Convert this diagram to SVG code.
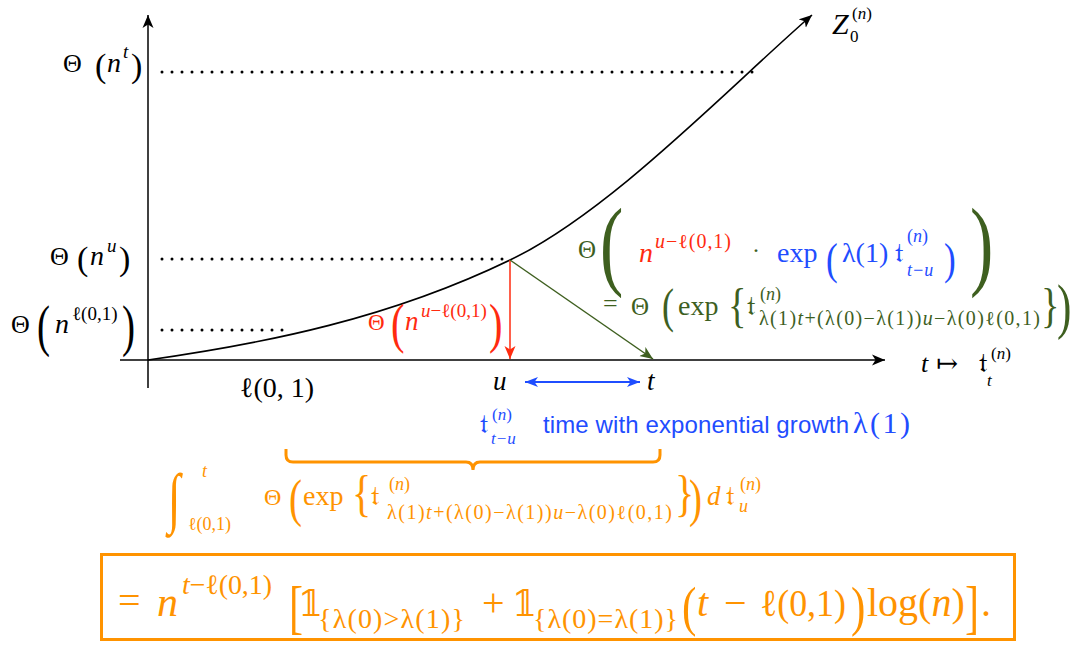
<svg xmlns="http://www.w3.org/2000/svg" width="1078" height="645" viewBox="0 0 1078 645">
<defs>
<style>
.m{font-family:"Liberation Serif","DejaVu Serif",serif}
.s{font-family:"Liberation Sans",Arial,sans-serif}
.f{font-family:"DejaVu Serif","DejaVu Sans","Noto Sans",serif}
.i{font-style:italic}
.k{fill:#000}
.g{fill:#3E5F1F}
.r{fill:#FF2B0F}
.b{fill:#1F4DFF}
.o{fill:#FF9300}
.dot{stroke:#000;stroke-width:3;stroke-linecap:round;stroke-dasharray:0 10;fill:none}
</style>
<marker id="ak" markerUnits="userSpaceOnUse" markerWidth="14" markerHeight="12" refX="13" refY="6" orient="auto"><path d="M0,0.5 L13,6 L0,11.5 L3.5,6 z" fill="#000"/></marker>
<marker id="ar" markerUnits="userSpaceOnUse" markerWidth="14" markerHeight="12" refX="13" refY="6" orient="auto"><path d="M0,0.5 L13,6 L0,11.5 L3.5,6 z" fill="#FF2B0F"/></marker>
<marker id="ag" markerUnits="userSpaceOnUse" markerWidth="14" markerHeight="12" refX="13" refY="6" orient="auto"><path d="M0,0.5 L13,6 L0,11.5 L3.5,6 z" fill="#3E5F1F"/></marker>
<marker id="ab" markerUnits="userSpaceOnUse" markerWidth="14" markerHeight="12" refX="13" refY="6" orient="auto-start-reverse"><path d="M0,1 L13,6 L0,11 L3.5,6 z" fill="#1F4DFF"/></marker>
</defs>

<g id="axes">
<line x1="148" y1="388" x2="148" y2="15" stroke="#000" stroke-width="1.5" marker-end="url(#ak)"/>
<line x1="120" y1="360" x2="885" y2="360" stroke="#000" stroke-width="1.5" marker-end="url(#ak)"/>
</g>

<g id="curve">
<path d="M148,360 C268,343 390,318 510,260 C610,212 726,90 812,15" fill="none" stroke="#000" stroke-width="1.6" marker-end="url(#ak)"/>
</g>

<g id="guides">
<line class="dot" x1="162" y1="72" x2="755" y2="72"/>
<line class="dot" x1="162" y1="259" x2="510" y2="259"/>
<line class="dot" x1="162" y1="330" x2="290" y2="330"/>
</g>

<g id="connectors">
<line x1="510" y1="260" x2="510" y2="359" stroke="#FF2B0F" stroke-width="1.5" marker-end="url(#ar)"/>
<line x1="510" y1="260" x2="653" y2="359" stroke="#3E5F1F" stroke-width="1.5" marker-end="url(#ag)"/>
<line x1="525" y1="382" x2="640" y2="382" stroke="#1F4DFF" stroke-width="1.8" marker-start="url(#ab)" marker-end="url(#ab)"/>
<path d="M286,449 V455 Q286,462 293,462 H466 Q473,462 473,470 Q473,462 480,462 H653 Q660,462 660,455 V449" fill="none" stroke="#FF9300" stroke-width="3"/>
</g>

<g id="label-nt" class="m k">
<text x="63" y="72" font-size="26">Θ</text>
<text x="95" y="77" font-size="34">(</text>
<text x="107" y="72" font-size="28" class="i">n</text>
<text x="123" y="58" font-size="19" class="i">t</text>
<text x="131" y="77" font-size="34">)</text>
</g>

<g id="label-nu" class="m k">
<text x="50" y="265" font-size="26">Θ</text>
<text x="77" y="270" font-size="34">(</text>
<text x="90" y="265" font-size="28" class="i">n</text>
<text x="107" y="252" font-size="19" class="i">u</text>
<text x="119" y="270" font-size="34">)</text>
</g>

<g id="label-nl" class="m k">
<text x="11" y="333" font-size="26">Θ</text>
<text transform="translate(37,345) scale(0.7,1)" font-size="56">(</text>
<text x="55" y="333" font-size="28" class="i">n</text>
<text x="72" y="320" font-size="19">ℓ(0,1)</text>
<text transform="translate(122,345) scale(0.7,1)" font-size="56">)</text>
</g>

<g id="label-l01" class="m k">
<text x="240" y="397" font-size="28">ℓ(0, 1)</text>
</g>

<g id="label-u" class="m k"><text x="493" y="390" font-size="27" class="i">u</text></g>
<g id="label-t" class="m k"><text x="647" y="390" font-size="27" class="i">t</text></g>

<g id="label-Z" class="m k">
<text x="832" y="34" font-size="30" class="i">Z</text>
<text x="852" y="19" font-size="17">(<tspan class="i">n</tspan>)</text>
<text x="850" y="42" font-size="17">0</text>
</g>

<g id="label-tt" class="k">
<text x="921" y="372" font-size="26" class="m i">t</text>
<text x="936" y="372" font-size="26" class="m">↦</text>
<text x="979" y="372" font-size="28" class="f">𝔱</text>
<text x="991" y="359" font-size="17" class="m">(<tspan class="i">n</tspan>)</text>
<text x="987" y="386" font-size="17" class="m i">t</text>
</g>

<g id="label-red" class="m r">
<text x="368" y="330" font-size="23">Θ</text>
<text transform="translate(391,342) scale(0.75,1)" font-size="54">(</text>
<text x="405" y="330" font-size="27" class="i">n</text>
<text x="421" y="317" font-size="19"><tspan class="i">u</tspan>−ℓ(0,1)</text>
<text transform="translate(489,342) scale(0.75,1)" font-size="54">)</text>
</g>

<g id="label-green" class="m">
<text x="578" y="258" font-size="25" class="g">Θ</text>
<text transform="translate(600,277) scale(0.7,1)" font-size="100" class="g">(</text>
<text x="639" y="262" font-size="28" class="i r">n</text>
<text x="655" y="248" font-size="20" class="r" textLength="76" lengthAdjust="spacing"><tspan class="i">u</tspan>−ℓ(0,1)</text>
<text x="752" y="258" font-size="24" class="g">·</text>
<text x="777" y="262" font-size="28" class="b">exp</text>
<text transform="translate(826,274) scale(0.8,1)" font-size="44" class="b">(</text>
<text x="842" y="262" font-size="28" class="b">λ(1)</text>
<text x="895" y="262" font-size="28" class="f b">𝔱</text>
<text x="907" y="242" font-size="18" class="b">(<tspan class="i">n</tspan>)</text>
<text x="907" y="276" font-size="18" class="b i">t−u</text>
<text transform="translate(944,274) scale(0.8,1)" font-size="44" class="b">)</text>
<text transform="translate(970,277) scale(0.7,1)" font-size="100" class="g">)</text>
<text x="603" y="312" font-size="26" class="g">=</text>
<text x="631" y="315" font-size="25" class="g">Θ</text>
<text transform="translate(662,322) scale(0.75,1)" font-size="48" class="g">(</text>
<text x="678" y="315" font-size="28" class="g">exp</text>
<text transform="translate(728,322) scale(0.8,1)" font-size="48" class="g">{</text>
<text x="747" y="315" font-size="28" class="f g">𝔱</text>
<text x="760" y="300" font-size="18" class="g">(<tspan class="i">n</tspan>)</text>
<text x="759" y="325" font-size="20" class="g" textLength="281" lengthAdjust="spacing">λ(1)<tspan class="i">t</tspan>+(λ(0)−λ(1))<tspan class="i">u</tspan>−λ(0)ℓ(0,1)</text>
<text transform="translate(1041,322) scale(0.8,1)" font-size="48" class="g">}</text>
<text transform="translate(1057,327) scale(0.7,1)" font-size="62" class="g">)</text>
</g>

<g id="label-blue" class="b">
<text x="480" y="433" font-size="27" class="f">𝔱</text>
<text x="492" y="420" font-size="17" class="m">(<tspan class="i">n</tspan>)</text>
<text x="491" y="444" font-size="17" class="m i">t−u</text>
<text x="543" y="433" font-size="24" class="s" textLength="306" lengthAdjust="spacing">time with exponential growth</text>
<text x="853" y="433" font-size="30" class="m" textLength="57" lengthAdjust="spacing">λ(1)</text>
</g>

<g id="label-integral" class="m o">
<text transform="translate(168,520) scale(1,1.45)" font-size="46">∫</text>
<text x="202" y="477" font-size="18" class="i">t</text>
<text x="188" y="530" font-size="18">ℓ(0,1)</text>
<text x="264" y="505" font-size="24">Θ</text>
<text transform="translate(289,516) scale(0.75,1)" font-size="52">(</text>
<text x="303" y="505" font-size="28">exp</text>
<text transform="translate(352,510) scale(0.8,1)" font-size="50">{</text>
<text x="371" y="505" font-size="28" class="f">𝔱</text>
<text x="389" y="490" font-size="18">(<tspan class="i">n</tspan>)</text>
<text x="387" y="519" font-size="20" textLength="285" lengthAdjust="spacing">λ(1)<tspan class="i">t</tspan>+(λ(0)−λ(1))<tspan class="i">u</tspan>−λ(0)ℓ(0,1)</text>
<text transform="translate(675,510) scale(0.8,1)" font-size="50">}</text>
<text transform="translate(689,516) scale(0.75,1)" font-size="52">)</text>
<text x="707" y="505" font-size="27" class="i">d</text>
<text x="726" y="505" font-size="28" class="f">𝔱</text>
<text x="740" y="490" font-size="18">(<tspan class="i">n</tspan>)</text>
<text x="739" y="512" font-size="18" class="i">u</text>
</g>

<g id="result-box" class="m o">
<rect x="101.5" y="554.5" width="913" height="85" fill="none" stroke="#FF9300" stroke-width="3"/>
<text x="118" y="614" font-size="40">=</text>
<text x="157" y="616" font-size="42" class="i">n</text>
<text x="182" y="594" font-size="28" textLength="90" lengthAdjust="spacing"><tspan class="i">t</tspan>−ℓ(0,1)</text>
<text transform="translate(289,627) scale(0.7,1)" font-size="60">[</text>
<text x="298" y="616" font-size="36" class="f">𝟙</text>
<text x="318" y="628" font-size="28" textLength="147" lengthAdjust="spacing">{λ(0)&gt;λ(1)}</text>
<text x="482" y="616" font-size="40">+</text>
<text x="512" y="616" font-size="36" class="f">𝟙</text>
<text x="533" y="628" font-size="28" textLength="145" lengthAdjust="spacing">{λ(0)=λ(1)}</text>
<text transform="translate(682,625) scale(0.8,1)" font-size="54">(</text>
<text x="697" y="616" font-size="40" class="i">t</text>
<text x="724" y="616" font-size="40">−</text>
<text x="760" y="616" font-size="38" textLength="86" lengthAdjust="spacingAndGlyphs">ℓ(0,1)</text>
<text transform="translate(851,625) scale(0.8,1)" font-size="54">)</text>
<text x="867" y="616" font-size="40">log(<tspan class="i">n</tspan>)</text>
<text transform="translate(965,627) scale(0.7,1)" font-size="60">]</text>
<text x="981" y="616" font-size="40">.</text>
</g>
</svg>
